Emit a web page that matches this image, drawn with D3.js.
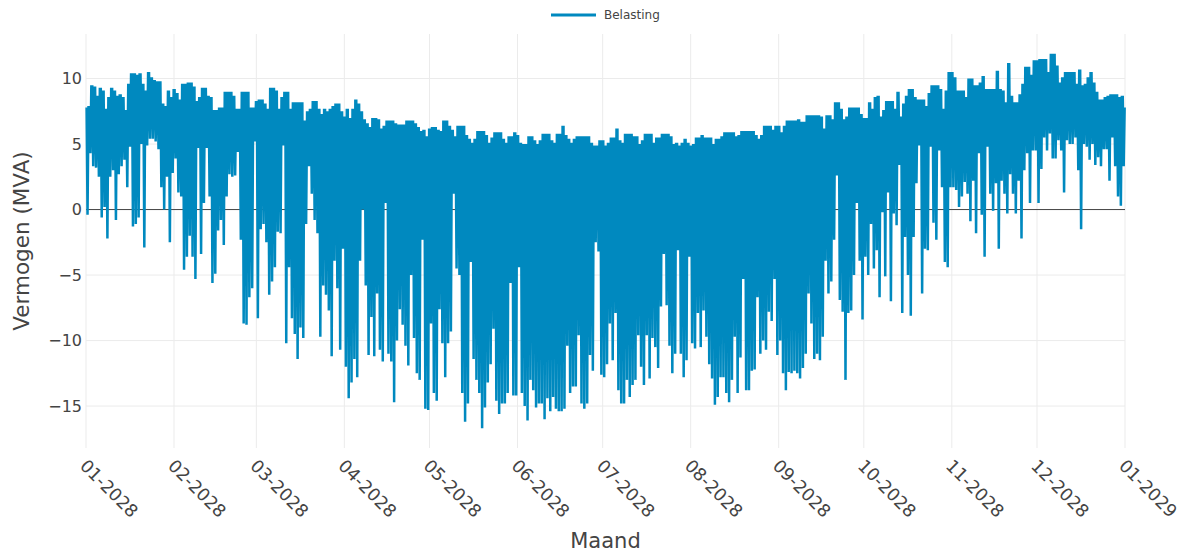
<html>

<head>
    <meta charset="utf-8">
    <style>
        body { margin: 0; background: #fff; }
        text { font-family: "DejaVu Sans", Verdana, sans-serif; fill: #444; }
    </style>
</head>

<body>
    <div id="my_dataviz"></div>
</body>

<script src="https://d3js.org/d3.v7.min.js"></script>
<script>
    // daily minimum (midday, solar) and daily maximum (evening peak) in MVA
    var dailyMin = [
        -0.4, 4.3, 3.3, 3.2, 2.5, -0.6, 0.2, -2.2, 2.5, 3.0, -0.8, 2.7, 3.3, 3.8, 1.7, 4.8, -1.3, -1.1, -0.6, 5.0, -2.9, 4.9, 5.4, 5.4, 5.2, 4.6, 1.7, 0.0, 2.5, -2.5, 2.8,
        3.9, 1.3, 1.0, -4.6, -3.6, -2.0, -3.6, -5.3, 4.7, -3.4, 0.5, 4.7, 1.0, -5.6, -4.9, -1.6, -0.8, -2.7, 1.0, 2.7, 2.5, 2.6, 4.4, -2.3, -8.7, -8.8, -6.7, -6.0, 5.2,
        -8.3, -1.5, -1.1, -2.5, -6.5, -5.5, -4.4, -1.7, -1.8, 4.9, -10.2, -4.4, -8.3, -9.5, -11.4, -9.0, -9.8, -1.1, 3.3, 1.2, -0.8, -1.8, -9.7, -5.8, -6.5, -7.7, -11.2, -3.9, -6.0, -10.7, -3.0,
        -12.0, -14.4, -13.2, -11.4, -12.8, -3.9, 0.0, -5.8, -11.1, -8.2, -11.2, -6.4, -10.7, -11.6, 0.5, -11.0, -11.6, -14.7, -10.0, -7.6, -8.8, -10.4, -11.9, -5.0, -9.8, -12.5, -13.0, -2.3, -15.2, -15.3,
        -8.7, -14.0, -14.6, -7.6, -10.2, -12.8, -10.2, -9.3, 1.2, -4.5, -5.0, -14.0, -16.2, -14.8, -4.0, -11.4, -13.0, -14.0, -16.7, -15.1, -13.2, -11.8, -9.1, -14.6, -15.6, -14.8, -14.8, -14.0, -5.6, -14.2, -14.2,
        -4.4, -14.0, -15.0, -16.1, -13.0, -13.8, -15.1, -14.8, -14.8, -16.0, -14.4, -15.4, -14.3, -15.2, -15.4, -15.4, -15.2, -10.4, -14.0, -13.5, -13.5, -9.6, -14.8, -15.2, -14.8, -11.1, -12.3, -2.5, -3.2, -12.6,
        -12.8, -11.8, -8.7, -11.5, -7.9, -13.8, -14.8, -14.8, -13.0, -14.3, -13.4, -13.0, -9.6, -12.0, -13.4, -9.6, -12.9, -9.8, -10.5, -12.1, -7.4, -3.4, -7.3, -10.4, -12.5, -11.0, -3.1, -11.0, -12.8, -11.5, -3.6,
        -10.2, -10.6, -7.9, -10.5, -7.7, -9.7, -11.8, -12.9, -14.9, -14.3, -12.8, -12.8, -14.0, -14.7, -13.0, -9.7, -14.0, -11.3, -5.3, -13.8, -13.8, -12.3, -12.2, -6.7, -11.0, -10.0, -10.7, -7.8, -8.5, -5.3, -11.1,
        -10.0, -12.5, -13.8, -12.4, -12.5, -12.3, -12.5, -12.9, -12.1, -11.0, -6.4, -8.7, -11.4, -11.0, -11.5, -9.7, -3.9, -6.4, -5.5, -2.3, 2.6, -6.9, -7.8, -13.0, -7.9, -7.7, -5.0, 0.5, -3.9, -8.4,
        -3.6, -5.0, -1.1, -4.5, -3.1, -6.7, -0.2, -5.1, 1.3, -7.0, -0.3, -1.2, 3.4, -7.9, -2.1, -5.0, -8.1, -2.1, 2.0, 4.9, -6.4, -3.0, -3.1, 4.8, -1.0, -2.3, 4.5, 1.7, -4.0, -4.4, 1.7,
        1.7, 1.5, 0.2, 1.0, 2.1, 1.2, -0.9, 2.2, -1.8, 4.3, -0.4, -3.6, 4.8, 1.2, -0.1, 2.0, -3.0, 2.2, 1.2, -0.3, 2.7, 1.2, -0.3, 2.2, -2.2, 3.0, 4.3, 0.5, 4.5, 4.5,
        0.5, 3.1, 5.5, 4.5, 5.8, 3.9, 3.9, 5.3, 4.5, 1.3, 5.3, 5.0, 5.0, 5.5, 3.0, -1.5, 5.0, 4.8, 3.8, 5.0, 3.4, 4.0, 3.3, 4.6, 4.6, 2.2, 5.5, 3.3, 1.0, 0.3, 3.3
    ];
    var dailyMax = [
        7.8, 9.4, 9.3, 8.6, 9.2, 9.0, 7.6, 8.5, 9.2, 9.0, 8.6, 8.7, 8.5, 7.5, 9.5, 10.3, 10.3, 10.2, 10.3, 9.5, 9.0, 10.4, 10.0, 9.8, 9.7, 9.7, 8.0, 7.8, 9.0, 8.5, 9.1,
        8.8, 8.3, 9.5, 9.5, 9.6, 9.6, 9.3, 8.2, 8.5, 9.2, 9.2, 8.6, 8.5, 7.5, 7.5, 7.7, 7.7, 8.9, 8.9, 8.9, 8.6, 7.6, 7.6, 8.9, 8.9, 8.9, 7.7, 7.7, 8.2,
        8.3, 8.3, 8.0, 7.6, 9.2, 9.2, 9.0, 7.6, 8.5, 8.9, 8.9, 7.6, 8.1, 8.1, 8.1, 8.1, 6.7, 7.4, 7.6, 8.2, 8.2, 7.6, 7.2, 7.6, 7.4, 7.6, 7.8, 8.0, 8.0, 7.4, 7.0,
        7.6, 6.9, 7.6, 8.3, 8.0, 7.4, 6.8, 6.5, 6.2, 6.9, 6.9, 6.8, 6.1, 6.3, 6.7, 6.7, 6.7, 6.5, 6.4, 6.4, 6.4, 6.7, 6.7, 6.7, 6.5, 6.2, 5.9, 6.0, 5.5, 6.1,
        6.2, 6.2, 6.0, 5.9, 6.7, 6.7, 6.3, 6.0, 5.5, 6.3, 6.3, 6.3, 5.6, 5.3, 5.0, 5.3, 5.9, 5.9, 5.9, 5.6, 5.0, 5.4, 5.8, 5.8, 5.8, 5.3, 5.0, 5.5, 5.5, 5.8, 5.6,
        5.0, 4.9, 4.9, 5.5, 5.5, 5.2, 4.9, 5.2, 5.7, 5.7, 5.7, 5.2, 5.0, 5.7, 5.7, 6.3, 5.6, 5.3, 5.0, 5.3, 5.5, 5.5, 5.5, 5.5, 5.5, 5.0, 4.8, 4.8, 5.2, 5.2,
        4.8, 5.0, 5.4, 5.4, 6.1, 5.2, 5.0, 5.7, 5.7, 5.7, 5.5, 5.5, 4.9, 5.2, 5.7, 5.7, 5.7, 5.0, 5.4, 5.4, 5.7, 5.7, 5.7, 5.5, 4.9, 5.0, 4.8, 5.0, 5.3, 5.0, 4.8,
        4.9, 5.4, 5.4, 5.6, 5.4, 5.4, 5.4, 4.9, 5.3, 5.3, 5.5, 5.8, 5.8, 5.8, 5.8, 5.5, 5.6, 5.9, 5.9, 5.9, 5.9, 5.9, 5.6, 5.3, 5.6, 6.3, 6.3, 6.3, 6.0, 6.3, 6.3,
        5.8, 6.3, 6.7, 6.7, 6.7, 6.7, 6.8, 6.6, 6.6, 7.1, 7.1, 7.1, 7.1, 7.1, 7.0, 6.1, 7.1, 7.1, 6.8, 8.1, 8.1, 7.6, 6.8, 7.0, 7.7, 7.7, 7.7, 7.7, 7.2, 6.9,
        6.9, 8.1, 7.6, 8.5, 8.6, 7.0, 7.5, 8.2, 8.2, 8.2, 7.6, 8.9, 7.0, 8.0, 8.6, 9.1, 9.1, 8.5, 8.3, 8.3, 8.3, 7.8, 8.8, 9.4, 9.4, 9.4, 9.1, 7.6, 9.0, 10.4, 10.4,
        10.0, 9.0, 9.0, 9.0, 8.5, 9.9, 9.9, 9.4, 9.4, 9.6, 10.1, 9.1, 9.1, 9.1, 9.1, 10.5, 9.1, 9.0, 8.1, 11.1, 8.6, 8.1, 8.1, 8.7, 9.5, 10.8, 10.8, 10.2, 11.3, 11.3,
        11.4, 11.4, 11.4, 10.4, 11.8, 11.8, 10.9, 9.6, 10.0, 10.4, 10.4, 10.4, 10.4, 9.5, 10.6, 9.4, 9.5, 10.0, 10.4, 9.6, 8.9, 8.3, 8.3, 8.5, 8.6, 8.7, 8.7, 8.7, 8.5, 8.6, 7.8
    ];
    var yearStart = Date.UTC(2028, 0, 1),
        yearEnd = Date.UTC(2029, 0, 1);
    var yTicks = [-15, -10, -5, 0, 5, 10];
    var seriesName = "Belasting";
    var lineColor = "#0089bf";

    var margin = { top: 34, right: 64, bottom: 111, left: 86 },
        width = 1189 - margin.left - margin.right,
        height = 559 - margin.top - margin.bottom;

    var svg = d3.select("#my_dataviz")
        .append("svg")
        .attr("width", width + margin.left + margin.right)
        .attr("height", height + margin.top + margin.bottom);
    var g = svg.append("g")
        .attr("transform", "translate(" + margin.left + "," + margin.top + ")");

    var x = d3.scaleUtc()
        .domain([new Date(yearStart), new Date(yearEnd)])
        .range([0, width]);
    var y = d3.scaleLinear()
        .domain([-18.2, 13.4])
        .range([height, 0]);

    var months = x.ticks(d3.utcMonth.every(1));

    // grid
    g.append("g").selectAll("line").data(months).enter().append("line")
        .attr("x1", function (d) { return x(d); }).attr("x2", function (d) { return x(d); })
        .attr("y1", 0).attr("y2", height)
        .attr("stroke", "#ebebeb").attr("stroke-width", 1);
    g.append("g").selectAll("line").data(yTicks.filter(function (d) { return d != 0; })).enter().append("line")
        .attr("x1", 0).attr("x2", width)
        .attr("y1", function (d) { return y(d); }).attr("y2", function (d) { return y(d); })
        .attr("stroke", "#ebebeb").attr("stroke-width", 1);

    // zero line
    g.append("line")
        .attr("x1", 0).attr("x2", width)
        .attr("y1", y(0)).attr("y2", y(0))
        .attr("stroke", "#444").attr("stroke-width", 1);

    // per day: evening high held through the night, dip to the daily low at midday, back up in the evening
    var hour = 3600e3;
    var points = [];
    dailyMin.forEach(function (v, i) {
        var t0 = yearStart + i * 24 * hour;
        var morning = i > 0 ? dailyMax[i - 1] : dailyMax[0];
        points.push({ t: new Date(t0 + 5 * hour), v: morning });
        points.push({ t: new Date(t0 + 13 * hour), v: v });
        points.push({ t: new Date(t0 + 21 * hour), v: dailyMax[i] });
    });

    g.append("path")
        .datum(points)
        .attr("fill", "none")
        .attr("stroke", lineColor)
        .attr("stroke-width", 2.5)
        .attr("d", d3.line()
            .x(function (d) { return x(d.t); })
            .y(function (d) { return y(d.v); }));

    // y tick labels
    g.append("g").selectAll("text").data(yTicks).enter().append("text")
        .attr("x", -4)
        .attr("y", function (d) { return y(d); })
        .attr("dy", "0.35em")
        .attr("text-anchor", "end")
        .style("font-size", "16px")
        .text(function (d) { return d3.format("")(d); });

    // x tick labels, rotated
    var fmt = d3.utcFormat("%m-%Y");
    g.append("g").selectAll("text").data(months).enter().append("text")
        .attr("transform", function (d) {
            return "translate(" + (x(d) - 7) + "," + (height + 19) + ")rotate(45)";
        })
        .attr("text-anchor", "start")
        .style("font-size", "17.5px")
        .text(function (d) { return fmt(d); });

    // axis titles
    svg.append("text")
        .attr("x", margin.left + width / 2)
        .attr("y", 548)
        .attr("text-anchor", "middle")
        .style("font-size", "21px")
        .text("Maand");
    svg.append("text")
        .attr("transform", "translate(29," + (margin.top + height / 2) + ")rotate(-90)")
        .attr("text-anchor", "middle")
        .style("font-size", "21.5px")
        .text("Vermogen (MVA)");

    // legend
    var legend = svg.append("g").attr("transform", "translate(551,15)");
    legend.append("line")
        .attr("x1", 0).attr("x2", 45).attr("y1", 0).attr("y2", 0)
        .attr("stroke", lineColor).attr("stroke-width", 3);
    legend.append("text")
        .attr("x", 53).attr("y", 0).attr("dy", "0.35em")
        .style("font-size", "12px")
        .text(seriesName);
</script>

</html>
